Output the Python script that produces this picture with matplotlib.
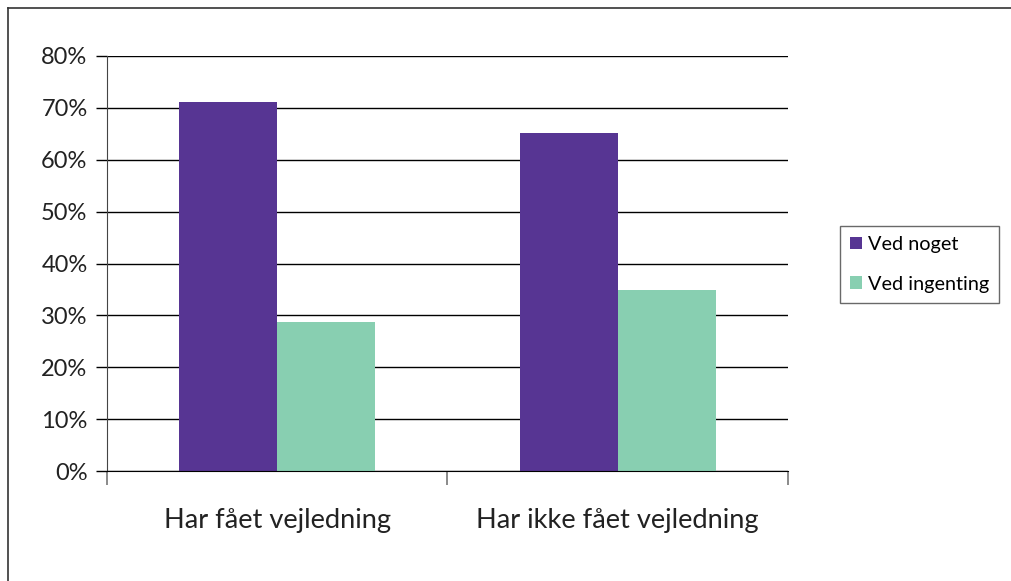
import matplotlib
matplotlib.use("Agg")
import matplotlib.pyplot as plt
import numpy as np
from matplotlib.patches import Patch

categories = ["Har fået vejledning", "Har ikke fået vejledning"]
series_names = ["Ved noget", "Ved ingenting"]
ved_noget = [71.2, 65.1]
ved_ingenting = [28.7, 34.9]
yticks = [0, 10, 20, 30, 40, 50, 60, 70, 80]

plt.rcParams["font.family"] = ["Lato", "DejaVu Sans"]

W, H = 1012, 581
fig = plt.figure(figsize=(W / 100, H / 100), dpi=100)
ax = fig.add_axes([107 / W, 1 - 471 / H, (788 - 107) / W, (471 - 56) / H])

x = np.arange(len(categories))
bw = 0.288
purple = "#573593"
green = "#88CFB1"
ax.bar(x - bw / 2, ved_noget, width=bw, color=purple, zorder=3)
ax.bar(x + bw / 2, ved_ingenting, width=bw, color=green, zorder=3)

ax.set_xlim(-0.5, 1.5)
ax.set_ylim(0, 80)
ax.set_yticks(yticks)
ax.set_yticklabels([f"{v}%" for v in yticks], fontsize=17, color="#222222")
ax.yaxis.grid(True, color="black", linewidth=1.0, zorder=0)
ax.set_axisbelow(True)

ax.set_xticks([-0.5, 0.5, 1.5])
ax.set_xticklabels([])
ax.tick_params(axis="x", length=10, width=1.2, color="#777777", direction="out")
ax.tick_params(axis="y", length=8, width=1.0, color="black", direction="out", pad=6)
for i, c in enumerate(categories):
    ax.text(i, -9.6, c, ha="center", va="center", fontsize=19.6, color="#222222")

for s in ["top", "right"]:
    ax.spines[s].set_visible(False)
ax.spines["left"].set_color("#444444")
ax.spines["bottom"].set_color("black")
ax.spines["bottom"].set_zorder(4)

handles = [Patch(facecolor=purple, label=series_names[0]), Patch(facecolor=green, label=series_names[1])]
leg = fig.legend(handles=handles, loc="upper left", bbox_to_anchor=(840 / W, 1 - 226 / H),
                 frameon=True, fancybox=False, edgecolor="#444444", fontsize=14.3,
                 handlelength=0.6, handleheight=0.6, handletextpad=0.3, borderpad=0.5,
                 labelspacing=1.15, borderaxespad=0)
leg.get_frame().set_linewidth(1.0)

# outer frame
fig.add_artist(plt.Line2D([8 / W, 8 / W], [0, 1 - 8 / H], transform=fig.transFigure, color="#333333", lw=1.2))
fig.add_artist(plt.Line2D([8 / W, 1], [1 - 8 / H, 1 - 8 / H], transform=fig.transFigure, color="#333333", lw=1.2))

fig.savefig("out.png", dpi=100)
